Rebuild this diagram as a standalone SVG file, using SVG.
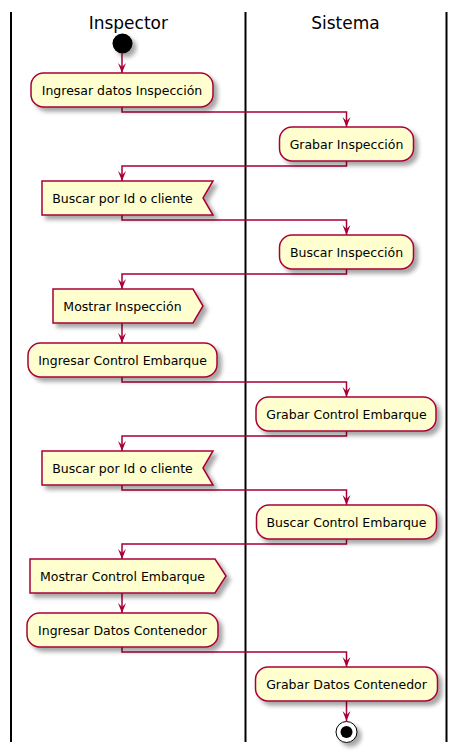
<svg xmlns="http://www.w3.org/2000/svg" width="457" height="752" viewBox="0 0 457 752">
<style>
.lane{stroke:#000;stroke-width:2;fill:none}
.title{font-family:"DejaVu Sans",sans-serif;font-size:17px;fill:#000;text-anchor:middle}
.box{fill:#FEFECE;stroke:#A80036;stroke-width:1.5;filter:url(#sh)}
.lbl{font-family:"DejaVu Sans",sans-serif;font-size:12.5px;fill:#000;text-anchor:middle}
.conn{fill:none;stroke:#A80036;stroke-width:1.5;marker-end:url(#ah)}
</style>
<defs>
<filter id="sh" x="-20%" y="-30%" width="150%" height="180%">
<feGaussianBlur in="SourceAlpha" stdDeviation="2" result="b"/>
<feOffset in="b" dx="4" dy="4" result="o"/>
<feFlood flood-color="#000" flood-opacity="0.35"/>
<feComposite in2="o" operator="in" result="s"/>
<feMerge><feMergeNode in="s"/><feMergeNode in="SourceGraphic"/></feMerge>
</filter>
<marker id="ah" viewBox="-11 -5 12 10" refX="0" refY="0" markerWidth="12" markerHeight="10" markerUnits="userSpaceOnUse" orient="auto">
<path d="M0,0 L-10,-4 L-6,0 L-10,4 Z" fill="#A80036"/>
</marker>
</defs>
<rect width="457" height="752" fill="#fff"/>
<g id="lanes">
<line class="lane" x1="11" y1="12" x2="11" y2="742"/>
<line class="lane" x1="245.5" y1="12" x2="245.5" y2="742"/>
<line class="lane" x1="446.5" y1="12" x2="446.5" y2="742"/>
<text class="title" x="128.3" y="29">Inspector</text>
<text class="title" x="345.5" y="29">Sistema</text>
</g>
<g id="connectors">
<path class="conn" d="M122,53.5 V73"/>
<path class="conn" d="M122,107 V112 H346.5 V127"/>
<path class="conn" d="M346.5,161 V166 H122 V181"/>
<path class="conn" d="M122,215 V220 H346.5 V235"/>
<path class="conn" d="M346.5,269 V274 H122 V289"/>
<path class="conn" d="M122,323 V343"/>
<path class="conn" d="M122,377 V382 H346.5 V397"/>
<path class="conn" d="M346.5,431 V436 H122 V451"/>
<path class="conn" d="M122,485 V490 H346.5 V505"/>
<path class="conn" d="M346.5,539 V544 H122 V559"/>
<path class="conn" d="M122,593 V613"/>
<path class="conn" d="M122,647 V652 H346.5 V667"/>
<path class="conn" d="M346.5,701 V721"/>
</g>
<g id="start"><circle cx="122.5" cy="43.5" r="10" fill="#000" filter="url(#sh)"/></g>
<g id="n1"><rect class="box" x="31" y="73" width="182" height="34" rx="12.5"/><text class="lbl" x="122" y="95">Ingresar datos Inspección</text></g>
<g id="n2"><rect class="box" x="279.5" y="127" width="134" height="34" rx="12.5"/><text class="lbl" x="346.5" y="149">Grabar Inspección</text></g>
<g id="n3"><path class="box" d="M42,181 H213 L203,198 L213,215 H42 Z"/><text class="lbl" x="122.5" y="203">Buscar por Id o cliente</text></g>
<g id="n4"><rect class="box" x="279.5" y="235" width="134" height="34" rx="12.5"/><text class="lbl" x="346.5" y="257">Buscar Inspección</text></g>
<g id="n5"><path class="box" d="M53,289 H193 L203,306 L193,323 H53 Z"/><text class="lbl" x="122.5" y="311">Mostrar Inspección</text></g>
<g id="n6"><rect class="box" x="28" y="343" width="189" height="34" rx="12.5"/><text class="lbl" x="122.5" y="365">Ingresar Control Embarque</text></g>
<g id="n7"><rect class="box" x="256" y="397" width="180" height="34" rx="12.5"/><text class="lbl" x="346.5" y="419">Grabar Control Embarque</text></g>
<g id="n8"><path class="box" d="M42,451 H213 L203,468 L213,485 H42 Z"/><text class="lbl" x="122.5" y="473">Buscar por Id o cliente</text></g>
<g id="n9"><rect class="box" x="256.5" y="505" width="180" height="34" rx="12.5"/><text class="lbl" x="346.5" y="527">Buscar Control Embarque</text></g>
<g id="n10"><path class="box" d="M30,559 H215 L226,576 L215,593 H30 Z"/><text class="lbl" x="122.5" y="581">Mostrar Control Embarque</text></g>
<g id="n11"><rect class="box" x="27" y="613" width="191" height="34" rx="12.5"/><text class="lbl" x="122.5" y="635">Ingresar Datos Contenedor</text></g>
<g id="n12"><rect class="box" x="255.5" y="667" width="182" height="34" rx="12.5"/><text class="lbl" x="346.5" y="689">Grabar Datos Contenedor</text></g>
<g id="end"><circle cx="346.5" cy="732" r="10.5" fill="#fff" stroke="#000" stroke-width="1" filter="url(#sh)"/><circle cx="346.5" cy="732" r="6" fill="#000"/></g>
</svg>
